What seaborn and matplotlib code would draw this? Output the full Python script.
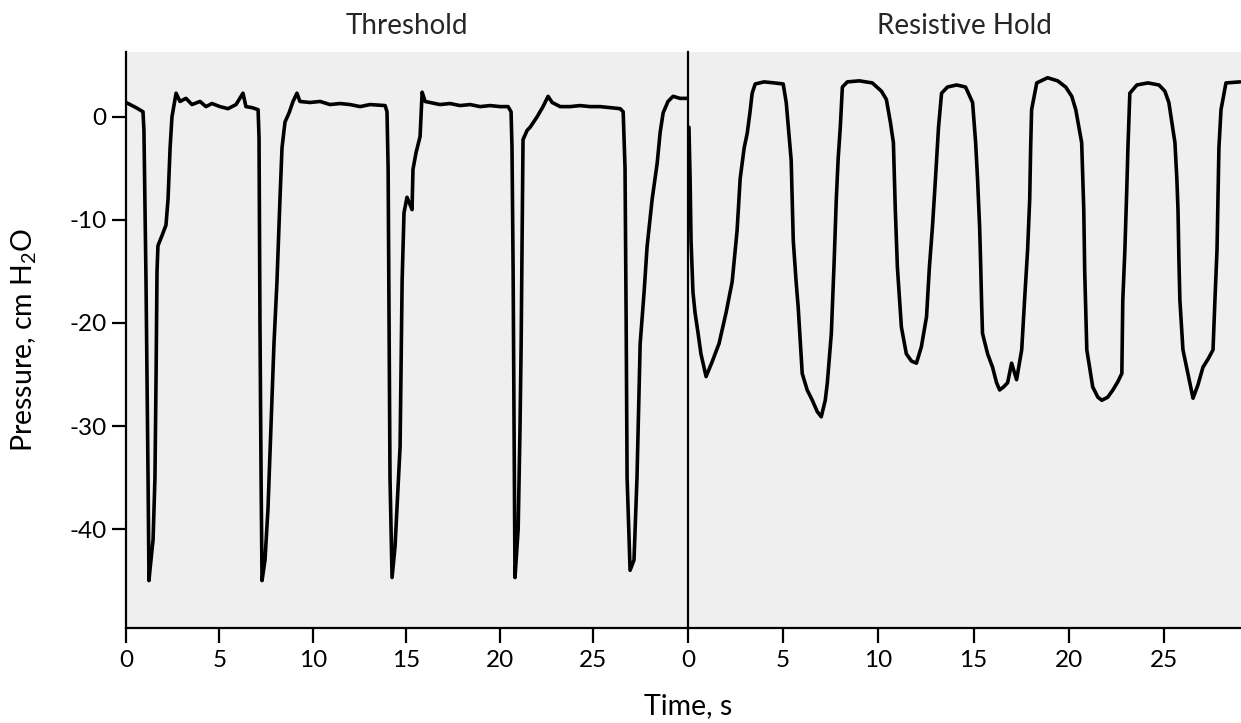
import numpy as np
import pandas as pd
import matplotlib
matplotlib.use("Agg")
import matplotlib.pyplot as plt
import seaborn as sns

# ---------------- data ----------------
panel_titles = ["Threshold", "Resistive Hold"]
x_ticks = [0, 5, 10, 15, 20, 25]
y_ticks = [0, -10, -20, -30, -40]
x_label = "Time, s"
y_label = "Pressure, cm H$_2$O"

threshold_time = [
    0.00, 0.54, 0.91, 0.96, 1.07, 1.18, 1.23, 1.28, 1.45, 1.55, 1.61, 1.66, 1.71,
    1.93, 2.14, 2.25, 2.36, 2.46, 2.68, 2.89, 3.21, 3.53, 3.96, 4.28, 4.60, 5.03,
    5.46, 5.89, 6.26, 6.42, 6.75, 7.07, 7.12, 7.17, 7.23, 7.28, 7.44, 7.60, 7.76,
    7.92, 8.08, 8.24, 8.35, 8.51, 8.73, 8.94, 9.15, 9.31, 9.85, 10.39, 10.92,
    11.46, 11.99, 12.53, 13.06, 13.87, 13.97, 14.03, 14.08, 14.13, 14.24, 14.40,
    14.67, 14.78, 14.88, 15.04, 15.20, 15.31, 15.36, 15.52, 15.74, 15.85, 16.01,
    16.27, 16.81, 17.34, 17.88, 18.42, 18.95, 19.49, 20.02, 20.45, 20.61, 20.66,
    20.72, 20.77, 20.82, 20.99, 21.09, 21.15, 21.20, 21.25, 21.47, 21.63, 22.00,
    22.32, 22.59, 22.81, 23.24, 23.77, 24.30, 24.84, 25.37, 25.91, 26.45, 26.61,
    26.71, 26.77, 26.82, 26.98, 27.19, 27.35, 27.52, 27.73, 27.89, 28.16, 28.43,
    28.59, 28.75, 29.01, 29.28, 29.66, 30.03,
]
threshold_pressure = [
    1.4, 0.9, 0.5, -1.3, -15.8, -35.0, -45.0, -44.0, -41.0, -35.0, -25.0, -15.0, -12.5,
    -11.5, -10.5, -8.0, -3.0, 0.0, 2.3, 1.5, 1.8, 1.2, 1.5, 1.0, 1.3, 1.0,
    0.8, 1.2, 2.3, 1.0, 0.9, 0.7, -2.0, -20.0, -35.0, -45.0, -43.0, -38.0, -30.0,
    -22.0, -16.0, -8.0, -3.0, -0.5, 0.4, 1.5, 2.3, 1.5, 1.4, 1.5, 1.2,
    1.3, 1.2, 1.0, 1.2, 1.1, 0.5, -5.0, -20.0, -35.0, -44.7, -41.7,
    -32.0, -15.8, -9.3, -7.8, -8.5, -9.0, -5.1, -3.5, -1.9, 2.4, 1.5,
    1.4, 1.2, 1.3, 1.1, 1.2, 1.0, 1.1, 1.0, 1.0, 0.5, -3.0,
    -15.0, -30.0, -44.7, -40.0, -30.0, -22.0, -12.0, -2.2, -1.3, -1.0, 0.0,
    1.0, 2.0, 1.4, 1.0, 1.0, 1.1, 1.0, 1.0, 0.9, 0.8, 0.5,
    -5.0, -20.0, -35.0, -44.0, -43.0, -35.0, -22.0, -17.0, -12.6, -8.0, -4.5,
    -1.5, 0.4, 1.5, 2.0, 1.8, 1.8,
]

resistive_time = [
    0.05, 0.11, 0.16, 0.26, 0.37, 0.53, 0.68, 0.95, 1.26, 1.63, 2.00, 2.32, 2.58,
    2.74, 2.95, 3.11, 3.26, 3.37, 3.53, 4.00, 4.53, 5.00, 5.16, 5.32, 5.42, 5.53,
    5.68, 5.79, 6.00, 6.26, 6.53, 6.79, 7.00, 7.21, 7.32, 7.53, 7.68, 7.79, 7.89,
    8.00, 8.11, 8.37, 9.00, 9.68, 10.16, 10.42, 10.63, 10.79, 10.89, 11.00, 11.21,
    11.47, 11.74, 12.00, 12.26, 12.53, 12.68, 12.84, 13.00, 13.16, 13.32, 13.63,
    14.11, 14.58, 14.95, 15.11, 15.21, 15.32, 15.37, 15.42, 15.47, 15.74, 16.00,
    16.21, 16.37, 16.58, 16.79, 17.00, 17.26, 17.53, 17.68, 17.84, 17.95, 18.00,
    18.05, 18.32, 18.89, 19.42, 19.84, 20.16, 20.37, 20.68, 20.74, 20.79, 20.84,
    20.95, 21.26, 21.53, 21.74, 22.05, 22.32, 22.58, 22.79, 22.84, 22.95, 23.05,
    23.11, 23.21, 23.58, 24.16, 24.74, 25.05, 25.26, 25.58, 25.68, 25.74, 25.79,
    25.84, 26.00, 26.26, 26.53, 26.79, 27.05, 27.32, 27.58, 27.68, 27.79, 27.84,
    27.89, 28.00, 28.26, 29.00,
]
resistive_pressure = [
    -1.0, -6.0, -12.0, -17.0, -19.0, -21.0, -23.0, -25.2, -23.8, -22.0, -19.0, -16.0, -11.0,
    -6.0, -3.0, -1.6, 0.5, 2.3, 3.2, 3.4, 3.3, 3.2, 1.4, -2.0, -4.2, -12.0,
    -16.0, -18.5, -24.9, -26.5, -27.5, -28.6, -29.1, -27.5, -25.8, -21.0, -13.9, -8.0, -4.0,
    -1.0, 2.9, 3.4, 3.5, 3.3, 2.5, 1.7, -0.5, -2.5, -9.0, -14.6, -20.4,
    -23.0, -23.7, -23.9, -22.3, -19.4, -14.6, -10.7, -6.0, -1.0, 2.3, 2.9,
    3.1, 2.9, 1.4, -2.5, -6.0, -10.7, -14.0, -17.8, -21.0, -23.0, -24.3,
    -25.8, -26.5, -26.2, -25.8, -23.9, -25.5, -22.6, -17.8, -12.9, -8.0, -3.0,
    0.7, 3.3, 3.8, 3.5, 2.9, 2.0, 0.7, -2.5, -6.0, -9.0, -15.0,
    -22.6, -26.2, -27.2, -27.5, -27.2, -26.5, -25.7, -24.9, -17.8, -12.9, -7.0,
    -3.0, 2.3, 3.1, 3.3, 3.1, 2.5, 1.4, -2.5, -6.0, -9.0, -14.0,
    -17.8, -22.6, -24.9, -27.3, -26.0, -24.3, -23.5, -22.6, -17.8, -12.9, -8.0,
    -3.0, 0.7, 3.3, 3.4,
]

# ---------------- style ----------------
sns.set_theme(style="white")
plt.rcParams["font.family"] = ["Lato", "DejaVu Sans"]
plt.rcParams["mathtext.default"] = "regular"

W, H = 1241, 723
fig = plt.figure(figsize=(W / 100, H / 100), dpi=100)
fig.patch.set_facecolor("white")

ax_bottom = (H - 628) / H
ax_height = (628 - 52) / H
ax_l = fig.add_axes([126 / W, ax_bottom, (688 - 126) / W, ax_height])
ax_r = fig.add_axes([688 / W, ax_bottom, (W - 688) / W, ax_height])

df_t = pd.DataFrame({"t": threshold_time, "p": threshold_pressure})
df_r = pd.DataFrame({"t": resistive_time, "p": resistive_pressure})

for ax, df, title, xmax in [(ax_l, df_t, panel_titles[0], 30.08),
                            (ax_r, df_r, panel_titles[1], 29.05)]:
    ax.set_facecolor("#efefef")
    sns.lineplot(data=df, x="t", y="p", ax=ax, sort=False, estimator=None,
                 color="black", linewidth=2.6)
    ax.set_xlim(0, xmax)
    ax.set_ylim(-49.6, 6.3)
    ax.set_xticks(x_ticks)
    ax.set_xticklabels([str(v) for v in x_ticks])
    ax.set_xlabel("")
    ax.set_ylabel("")
    ax.set_title(title, fontsize=20, pad=13)
    for s in ["top", "right"]:
        ax.spines[s].set_visible(False)
    for s in ["left", "bottom"]:
        ax.spines[s].set_color("black")
        ax.spines[s].set_linewidth(1.6)
    ax.tick_params(axis="x", direction="out", length=11, width=1.6,
                   colors="black", labelsize=17.5, pad=5, bottom=True)

ax_l.set_yticks(y_ticks)
ax_l.set_yticklabels([str(v) for v in y_ticks])
ax_l.tick_params(axis="y", direction="out", length=10, width=1.6,
                 colors="black", labelsize=17.5, pad=4, left=True)
ax_r.set_yticks([])

fig.text(24 / W, 1 - 340 / H, y_label, rotation=90, ha="center", va="center",
         fontsize=20.5, color="black")
fig.text(688 / W, 1 - 706 / H, x_label, ha="center", va="center",
         fontsize=20.5, color="black")

fig.savefig("out.png", dpi=100, facecolor="white")
